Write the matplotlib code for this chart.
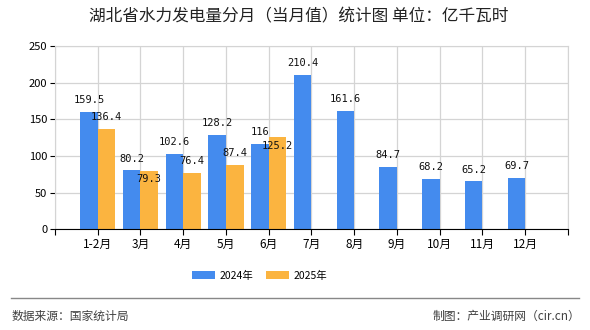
import numpy as np
import matplotlib
matplotlib.use("Agg")
import matplotlib.pyplot as plt

plt.rcParams["font.family"] = ["Noto Sans CJK SC", "DejaVu Sans"]

months = ["1-2月", "3月", "4月", "5月", "6月", "7月", "8月", "9月", "10月", "11月", "12月"]
v2024 = [159.5, 80.2, 102.6, 128.2, 116, 210.4, 161.6, 84.7, 68.2, 65.2, 69.7]
v2025 = [136.4, 79.3, 76.4, 87.4, 125.2]
yticks = [0, 50, 100, 150, 200, 250]

BLUE = "#448bee"
ORANGE = "#fbb440"
GRID = "#d4d4d4"

fig = plt.figure(figsize=(5.9, 3.3), dpi=100)
ax = fig.add_axes([0.0932, 0.3052, 0.8695, 0.5554])

x = np.arange(len(months))
w = 0.41
b1 = ax.bar(x - w / 2, v2024, width=w, color=BLUE, label="2024年", zorder=3)
b2 = ax.bar(x[:len(v2025)] + w / 2, v2025, width=w, color=ORANGE, label="2025年", zorder=3)

# labels that would collide with the neighbouring 2024 label drop below the bar top
pushed_down = {1, 4}

for series, (bars, vals) in enumerate(((b1, v2024), (b2, v2025))):
    for i, (r, v) in enumerate(zip(bars, vals)):
        if series == 1 and i in pushed_down:
            dy, va = -6, "center"
        else:
            dy, va = 5, "bottom"
        ax.annotate(f"{v:g}", (r.get_x() + r.get_width() / 2, r.get_height()),
                    xytext=(0, dy), textcoords="offset points",
                    ha="center", va=va, fontsize=7.5,
                    family="DejaVu Sans Mono", color="#111111", zorder=4)

ax.set_xlim(-1, len(months))
ax.set_ylim(0, 250)
ax.set_yticks(yticks)
ax.set_xticks(list(range(-1, len(months) + 1)))
ax.set_xticklabels([""] + months + [""], fontsize=8.5)
ax.tick_params(axis="y", labelsize=8, length=3.5, pad=2)
ax.tick_params(axis="x", length=4, pad=2)
ax.grid(True, color=GRID, linewidth=0.9, zorder=0)

for s in ("top", "right", "left"):
    ax.spines[s].set_color(GRID)
ax.spines["bottom"].set_color("black")
ax.spines["bottom"].set_zorder(5)

fig.text(0.507, 0.948, "湖北省水力发电量分月（当月值）统计图 单位：亿千瓦时",
         ha="center", va="center", fontsize=12, color="#222222")

fig.legend(handles=[b1, b2], loc="center", bbox_to_anchor=(0.44, 0.165),
           ncol=2, frameon=False, fontsize=7.5, handlelength=2.2,
           handleheight=0.9, columnspacing=1.3, handletextpad=0.4)

fig.add_artist(plt.Line2D([0.018, 0.982], [0.097, 0.097], color="#888888",
                          linewidth=1.0, transform=fig.transFigure))
fig.text(0.02, 0.042, "数据来源：国家统计局", ha="left", va="center",
         fontsize=8.5, color="#404040")
fig.text(0.983, 0.042, "制图：产业调研网（cir.cn）", ha="right", va="center",
         fontsize=8.5, color="#404040")

fig.savefig("out.png", dpi=100)
